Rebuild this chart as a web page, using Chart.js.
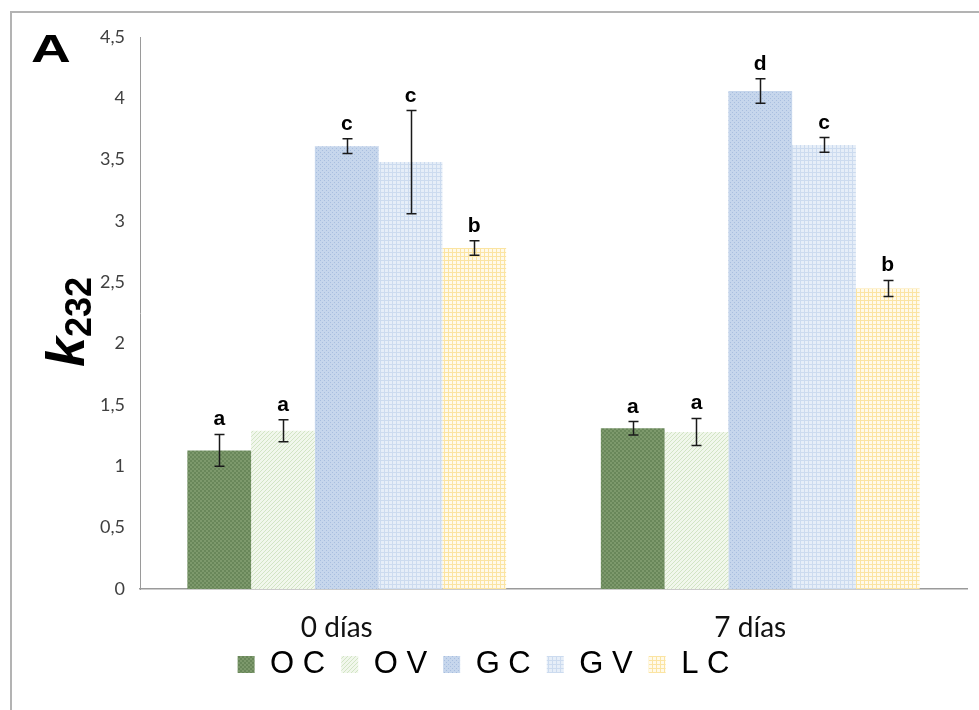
<!DOCTYPE html>
<html>
<head>
<meta charset="utf-8">
<script src="https://cdn.jsdelivr.net/npm/chart.js@4"></script>
<style>
  body { margin: 0; background: #fff; }
  canvas { display: block; }
</style>
</head>
<body>
<canvas id="k232" width="979" height="710"></canvas>
<script>
// data
const days = ['0 días', '7 días'];
const series = ['O C', 'O V', 'G C', 'G V', 'L C'];
const valOC = [1.13, 1.31];
const valOV = [1.29, 1.28];
const valGC = [3.61, 4.06];
const valGV = [3.48, 3.62];
const valLC = [2.78, 2.45];
const errOC = [0.13, 0.055];
const errOV = [0.09, 0.11];
const errGC = [0.06, 0.10];
const errGV = [0.42, 0.06];
const errLC = [0.06, 0.065];
const letOC = ['a', 'a'];
const letOV = ['a', 'a'];
const letGC = ['c', 'd'];
const letGV = ['c', 'c'];
const letLC = ['b', 'b'];
const yTicks = [0, 0.5, 1, 1.5, 2, 2.5, 3, 3.5, 4, 4.5];

const BOTTOM_PAD = 20;

// little fill patterns, Excel style
function pat(base, ink, kind) {
  const c = document.createElement('canvas');
  c.width = 4; c.height = 4;
  const g = c.getContext('2d');
  g.fillStyle = base; g.fillRect(0, 0, 4, 4);
  g.fillStyle = ink;
  if (kind === 'check') { g.fillRect(0, 0, 2, 2); g.fillRect(2, 2, 2, 2); }
  if (kind === 'diag') { for (let i = 0; i < 4; i++) g.fillRect(3 - i, i, 1, 1); }
  if (kind === 'dots') { g.fillRect(0, 0, 1, 1); g.fillRect(2, 2, 1, 1); }
  if (kind === 'grid') { g.fillRect(0, 0, 4, 1); g.fillRect(0, 0, 1, 4); }
  return g.createPattern(c, 'repeat');
}

const fills = [
  pat('#69875a', '#7d996c', 'check'),
  pat('#f1f7ec', '#d2e4c4', 'diag'),
  pat('#c6d6ec', '#a8bedf', 'dots'),
  pat('#e6eef8', '#ccdbef', 'grid'),
  pat('#fffaea', '#fbe4a2', 'grid')
];
const vals = [valOC, valOV, valGC, valGV, valLC];
const errs = [errOC, errOV, errGC, errGV, errLC];
const lets = [letOC, letOV, letGC, letGV, letLC];

const errorBars = {
  id: 'errorBars',
  afterDatasetsDraw(chart) {
    const ctx = chart.ctx;
    const y = chart.scales.y;
    ctx.save();
    ctx.strokeStyle = '#1a1a1a';
    ctx.lineWidth = 1.5;
    ctx.fillStyle = '#000';
    ctx.font = 'bold 21px "Liberation Sans", Arial, sans-serif';
    ctx.textAlign = 'center';
    ctx.textBaseline = 'alphabetic';
    chart.data.datasets.forEach((ds, i) => {
      chart.getDatasetMeta(i).data.forEach((bar, j) => {
        const hi = y.getPixelForValue(vals[i][j] + errs[i][j]);
        const lo = y.getPixelForValue(vals[i][j] - errs[i][j]);
        const x = Math.round(bar.x) + 0.5;
        ctx.beginPath();
        ctx.moveTo(x, hi); ctx.lineTo(x, lo);
        ctx.moveTo(x - 5, hi); ctx.lineTo(x + 5, hi);
        ctx.moveTo(x - 5, lo); ctx.lineTo(x + 5, lo);
        ctx.stroke();
        ctx.fillText(lets[i][j], bar.x, hi - 9);
      });
    });
    ctx.restore();
  }
};

const decor = {
  id: 'decor',
  afterDraw(chart) {
    const ctx = chart.ctx;
    ctx.save();
    ctx.textBaseline = 'alphabetic';
    ctx.textAlign = 'left';
    // frame (top and left edges only, as cropped)
    ctx.strokeStyle = '#b3b3b3';
    ctx.lineWidth = 2;
    ctx.beginPath();
    ctx.moveTo(11, 710); ctx.lineTo(11, 12); ctx.lineTo(979, 12);
    ctx.stroke();
    // panel letter
    ctx.fillStyle = '#000';
    ctx.save();
    ctx.translate(31, 62);
    ctx.scale(1.45, 1);
    ctx.font = 'bold 38px "Liberation Sans", Arial, sans-serif';
    ctx.fillText('A', 0, 0);
    ctx.restore();
    // axis title k232
    ctx.translate(84, 322);
    ctx.rotate(-Math.PI / 2);
    ctx.font = 'italic bold 54px "Liberation Sans", Arial, sans-serif';
    const wk = ctx.measureText('k').width;
    ctx.font = 'bold 36px "Liberation Sans", Arial, sans-serif';
    const ws = ctx.measureText('232').width;
    const x0 = -(wk + ws) / 2;
    ctx.font = 'italic bold 54px "Liberation Sans", Arial, sans-serif';
    ctx.fillText('k', x0, 0);
    ctx.font = 'bold 36px "Liberation Sans", Arial, sans-serif';
    ctx.fillText('232', x0 + wk, 7);
    ctx.restore();
  }
};

new Chart(document.getElementById('k232'), {
  type: 'bar',
  data: {
    labels: days,
    datasets: series.map((s, i) => ({
      label: s,
      data: vals[i],
      backgroundColor: fills[i],
      borderWidth: 0,
      barPercentage: 1,
      categoryPercentage: 0.771
    }))
  },
  options: {
    responsive: false,
    animation: false,
    layout: { padding: { left: 0, top: 37, right: 12, bottom: BOTTOM_PAD } },
    plugins: {
      tooltip: { enabled: false },
      legend: {
        position: 'bottom',
        labels: {
          boxWidth: 17,
          boxHeight: 17,
          padding: 16,
          color: '#000',
          font: { family: '"Liberation Sans", Arial, sans-serif', size: 31 }
        }
      }
    },
    scales: {
      x: {
        grid: { display: false, drawTicks: false },
        border: { color: '#9a9a9a', width: 1.5 },
        ticks: {
          padding: 22,
          labelOffset: -10,
          color: '#111',
          font: { family: 'Lato, "Open Sans", sans-serif', size: 28 }
        },
        afterFit(scale) {
          scale.height = 710 - 589 - scale.chart.legend.height - BOTTOM_PAD;
          // labels run a bit into the legend band; don't clip them
          scale._computeLabelArea = () => undefined;
        }
      },
      y: {
        min: 0,
        max: 4.5,
        afterBuildTicks(scale) {
          scale.ticks = yTicks.map(v => ({ value: v }));
        },
        grid: { display: false, drawTicks: false },
        border: { color: '#9a9a9a', width: 1 },
        ticks: {
          padding: 15,
          color: '#404040',
          font: { family: 'Lato, "Open Sans", sans-serif', size: 18 },
          callback: v => String(v).replace('.', ',')
        },
        afterFit(scale) {
          scale.width = 140;
        }
      }
    }
  },
  plugins: [errorBars, decor]
});
</script>
</body>
</html>
